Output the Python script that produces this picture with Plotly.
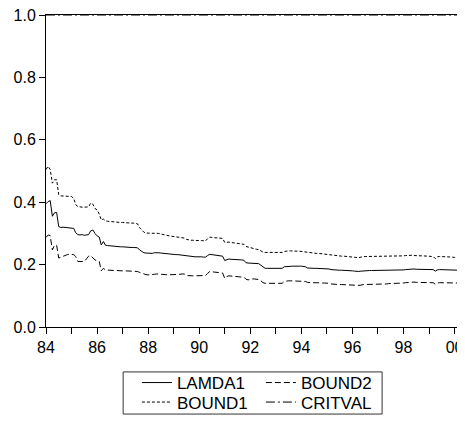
import pandas as pd
import plotly.graph_objects as go

# Monthly sample 1984:01 - 2000:05
START = "1984-01-01"
N_MONTHS = 197

LAMDA1 = [
    0.395, 0.402, 0.405, 0.355, 0.366, 0.367, 0.322, 0.319, 0.320, 0.319, 0.320, 0.318,  # 1984
    0.318, 0.316, 0.302, 0.296, 0.295, 0.296, 0.294, 0.295, 0.296, 0.308, 0.311, 0.300,  # 1985
    0.292, 0.288, 0.263, 0.274, 0.262, 0.261, 0.260, 0.259, 0.259, 0.258, 0.257, 0.257,  # 1986
    0.257, 0.256, 0.256, 0.255, 0.255, 0.255, 0.255, 0.254, 0.247, 0.243, 0.238, 0.237,  # 1987
    0.236, 0.235, 0.236, 0.238, 0.239, 0.238, 0.237, 0.236, 0.235, 0.234, 0.233, 0.233,  # 1988
    0.233, 0.232, 0.232, 0.231, 0.231, 0.230, 0.227, 0.226, 0.226, 0.225, 0.225, 0.225,  # 1989
    0.226, 0.225, 0.224, 0.224, 0.229, 0.233, 0.232, 0.231, 0.230, 0.229, 0.228, 0.227,  # 1990
    0.213, 0.217, 0.218, 0.217, 0.217, 0.216, 0.215, 0.215, 0.215, 0.214, 0.206, 0.205,  # 1991
    0.205, 0.204, 0.204, 0.204, 0.203, 0.198, 0.192, 0.188, 0.188, 0.188, 0.188, 0.188,  # 1992
    0.188, 0.188, 0.188, 0.188, 0.193, 0.194, 0.195, 0.195, 0.195, 0.195, 0.196, 0.195,  # 1993
    0.195, 0.194, 0.193, 0.189, 0.188, 0.188, 0.188, 0.188, 0.188, 0.187, 0.187, 0.187,  # 1994
    0.187, 0.186, 0.184, 0.183, 0.183, 0.183, 0.182, 0.182, 0.182, 0.182, 0.182, 0.181,  # 1995
    0.180, 0.179, 0.178, 0.178, 0.179, 0.180, 0.180, 0.180, 0.181, 0.181, 0.181, 0.181,  # 1996
    0.181, 0.181, 0.181, 0.181, 0.182, 0.182, 0.182, 0.182, 0.182, 0.182, 0.182, 0.183,  # 1997
    0.183, 0.184, 0.185, 0.186, 0.186, 0.186, 0.185, 0.185, 0.185, 0.185, 0.184, 0.184,  # 1998
    0.184, 0.184, 0.184, 0.179, 0.183, 0.184, 0.184, 0.184, 0.184, 0.184, 0.184, 0.183,  # 1999
    0.182, 0.182, 0.182, 0.186, 0.187,                                                   # 2000
]

BOUND1 = [
    0.505, 0.515, 0.505, 0.461, 0.472, 0.472, 0.424, 0.420, 0.420, 0.420, 0.420, 0.419,
    0.418, 0.412, 0.392, 0.386, 0.384, 0.384, 0.384, 0.384, 0.385, 0.397, 0.394, 0.380,
    0.375, 0.362, 0.343, 0.346, 0.340, 0.339, 0.338, 0.337, 0.337, 0.336, 0.336, 0.335,
    0.335, 0.334, 0.334, 0.333, 0.333, 0.333, 0.332, 0.331, 0.318, 0.311, 0.304, 0.301,
    0.301, 0.300, 0.300, 0.301, 0.301, 0.300, 0.298, 0.296, 0.294, 0.293, 0.292, 0.291,
    0.290, 0.289, 0.288, 0.287, 0.286, 0.285, 0.281, 0.279, 0.278, 0.278, 0.277, 0.277,
    0.277, 0.277, 0.276, 0.276, 0.283, 0.288, 0.287, 0.286, 0.286, 0.285, 0.285, 0.284,
    0.271, 0.272, 0.272, 0.271, 0.270, 0.269, 0.268, 0.267, 0.266, 0.265, 0.258, 0.256,
    0.254, 0.251, 0.250, 0.249, 0.248, 0.244, 0.240, 0.239, 0.239, 0.239, 0.239, 0.239,
    0.239, 0.239, 0.239, 0.239, 0.242, 0.244, 0.244, 0.244, 0.243, 0.243, 0.243, 0.243,
    0.242, 0.242, 0.241, 0.238, 0.237, 0.237, 0.237, 0.236, 0.236, 0.235, 0.235, 0.234,
    0.233, 0.233, 0.230, 0.229, 0.229, 0.228, 0.228, 0.227, 0.227, 0.226, 0.226, 0.225,
    0.224, 0.223, 0.222, 0.222, 0.224, 0.226, 0.226, 0.226, 0.226, 0.226, 0.226, 0.226,
    0.226, 0.226, 0.226, 0.226, 0.226, 0.226, 0.226, 0.226, 0.227, 0.227, 0.227, 0.228,
    0.228, 0.229, 0.230, 0.230, 0.230, 0.229, 0.229, 0.228, 0.228, 0.227, 0.227, 0.227,
    0.227, 0.226, 0.226, 0.219, 0.225, 0.226, 0.226, 0.226, 0.226, 0.225, 0.225, 0.224,
    0.223, 0.222, 0.222, 0.226, 0.228,
]

BOUND2 = [
    0.287, 0.295, 0.293, 0.247, 0.262, 0.262, 0.221, 0.224, 0.226, 0.230, 0.232, 0.233,
    0.233, 0.232, 0.226, 0.210, 0.210, 0.210, 0.210, 0.218, 0.227, 0.229, 0.222, 0.215,
    0.212, 0.210, 0.180, 0.188, 0.183, 0.182, 0.182, 0.181, 0.181, 0.181, 0.180, 0.180,
    0.180, 0.180, 0.180, 0.179, 0.179, 0.179, 0.179, 0.178, 0.175, 0.172, 0.169, 0.168,
    0.167, 0.167, 0.168, 0.169, 0.170, 0.170, 0.169, 0.168, 0.168, 0.167, 0.167, 0.167,
    0.167, 0.167, 0.168, 0.169, 0.170, 0.170, 0.165, 0.164, 0.164, 0.164, 0.164, 0.164,
    0.165, 0.164, 0.164, 0.165, 0.172, 0.178, 0.177, 0.176, 0.176, 0.175, 0.174, 0.173,
    0.156, 0.162, 0.164, 0.163, 0.163, 0.162, 0.162, 0.161, 0.160, 0.160, 0.153, 0.151,
    0.153, 0.154, 0.154, 0.153, 0.152, 0.148, 0.142, 0.140, 0.140, 0.140, 0.140, 0.140,
    0.140, 0.140, 0.140, 0.140, 0.146, 0.148, 0.148, 0.148, 0.148, 0.148, 0.148, 0.148,
    0.148, 0.147, 0.146, 0.143, 0.142, 0.142, 0.142, 0.142, 0.141, 0.141, 0.141, 0.141,
    0.141, 0.140, 0.138, 0.137, 0.137, 0.137, 0.136, 0.136, 0.136, 0.136, 0.135, 0.135,
    0.134, 0.134, 0.133, 0.133, 0.134, 0.136, 0.136, 0.136, 0.137, 0.137, 0.137, 0.137,
    0.138, 0.138, 0.138, 0.138, 0.138, 0.139, 0.139, 0.139, 0.139, 0.140, 0.140, 0.140,
    0.141, 0.142, 0.143, 0.144, 0.144, 0.144, 0.143, 0.143, 0.143, 0.142, 0.142, 0.142,
    0.142, 0.142, 0.142, 0.137, 0.141, 0.142, 0.142, 0.142, 0.142, 0.142, 0.142, 0.141,
    0.141, 0.141, 0.141, 0.146, 0.148,
]

CRITVAL_LEVEL = 1.0
CRITVAL = [CRITVAL_LEVEL] * N_MONTHS

X_TICK_YEARS = list(range(1984, 2001))
X_TICK_LABELS = ["84", "", "86", "", "88", "", "90", "", "92", "", "94", "", "96", "", "98", "", "00"]
Y_TICK_VALUES = [0.0, 0.2, 0.4, 0.6, 0.8, 1.0]
Y_TICK_LABELS = ["0.0", "0.2", "0.4", "0.6", "0.8", "1.0"]

dates = pd.date_range(START, periods=N_MONTHS, freq="MS")
tickvals = [pd.Timestamp(f"{y}-01-01") for y in X_TICK_YEARS]

FONT = "Liberation Sans, Arial, sans-serif"

fig = go.Figure()
fig.add_trace(go.Scatter(x=dates, y=LAMDA1, name="LAMDA1", mode="lines",
                         legend="legend",
                         line=dict(color="black", width=1)))
fig.add_trace(go.Scatter(x=dates, y=BOUND1, name="BOUND1", mode="lines",
                         legend="legend2",
                         line=dict(color="black", width=1, dash="3px,2px")))
fig.add_trace(go.Scatter(x=dates, y=BOUND2, name="BOUND2", mode="lines",
                         legend="legend",
                         line=dict(color="black", width=1, dash="6px,3px")))
fig.add_trace(go.Scatter(x=dates, y=CRITVAL, name="CRITVAL", mode="lines",
                         legend="legend2",
                         line=dict(color="black", width=1, dash="9px,3px,2px,3px")))

legend_style = dict(
    orientation="h", xanchor="left", yanchor="middle",
    bgcolor="rgba(0,0,0,0)", borderwidth=0,
    font=dict(family=FONT, size=17, color="black"),
    entrywidthmode="pixels", entrywidth=79, itemwidth=30,
)

# the page body adds an 8px offset, so the figure is 8px smaller than the window
fig.update_layout(
    width=457, height=413,
    margin=dict(l=38, r=2, t=7, b=94, autoexpand=False),
    paper_bgcolor="white", plot_bgcolor="white",
    font=dict(family=FONT, size=16, color="black"),
    showlegend=True,
    legend=dict(x=0.218, y=-0.1795, **legend_style),
    legend2=dict(x=0.218, y=-0.242, **legend_style),
    shapes=[dict(type="rect", xref="paper", yref="paper",
                 x0=0.185, x1=0.806, y0=-0.279, y1=-0.144,
                 line=dict(color="#333333", width=1), fillcolor="rgba(0,0,0,0)")],
    xaxis=dict(
        type="date",
        range=[dates[0], dates[-1]],
        automargin=False, ticklabeloverflow="allow",
        tickmode="array", tickvals=tickvals, ticktext=X_TICK_LABELS,
        ticks="outside", ticklen=6, tickcolor="black", tickwidth=1,
        showline=True, linecolor="black", linewidth=1, mirror=True,
        showgrid=False, zeroline=False,
        tickfont=dict(size=16),
    ),
    yaxis=dict(
        range=[0, 1.0],
        automargin=False, ticklabeloverflow="allow",
        tickmode="array", tickvals=Y_TICK_VALUES, ticktext=Y_TICK_LABELS,
        ticks="outside", ticklen=6, tickcolor="black", tickwidth=1,
        showline=True, linecolor="black", linewidth=1, mirror=True,
        showgrid=False, zeroline=False,
        tickfont=dict(size=16),
    ),
)

fig.write_html("out.html")
